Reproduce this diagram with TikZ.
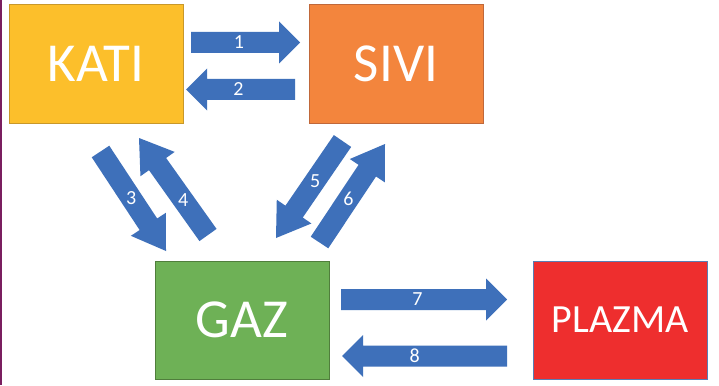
\documentclass[tikz,border=0pt]{standalone}
\usepackage{fontspec}
\setmainfont{Carlito}
\usetikzlibrary{calc}
\definecolor{arrowblue}{RGB}{62,112,186}
\definecolor{katifill}{RGB}{252,191,43}
\definecolor{katiline}{RGB}{200,152,42}
\definecolor{sivifill}{RGB}{243,133,61}
\definecolor{siviline}{RGB}{192,104,58}
\definecolor{gazfill}{RGB}{110,177,86}
\definecolor{gazline}{RGB}{80,126,60}
\definecolor{plazmafill}{RGB}{238,46,46}
\definecolor{plazmaline}{RGB}{90,125,180}
\definecolor{edgepurple}{RGB}{122,30,95}
\tikzset{
  statebox/.style={draw, line width=1pt, minimum width=174pt, minimum height=118pt,
    inner sep=0pt, text=white, font=\fontsize{55}{60}\selectfont},
  numlabel/.style={text=white, font=\fontsize{20}{22}\selectfont, inner sep=0pt},
}
% block arrow from tail #1 to tip #2 with head length #3
\newcommand{\blockarrow}[3]{%
  \fill[arrowblue]
    ($(#1)!10.5pt!90:(#2)$) --
    ($($(#2)!#3!(#1)$)!10.5pt!-90:(#1)$) --
    ($($(#2)!#3!(#1)$)!21pt!-90:(#1)$) --
    (#2) --
    ($($(#2)!#3!(#1)$)!21pt!90:(#1)$) --
    ($($(#2)!#3!(#1)$)!10.5pt!90:(#1)$) --
    ($(#1)!10.5pt!-90:(#2)$) -- cycle;}
\begin{document}
\begin{tikzpicture}[x=1pt,y=-1pt]
\useasboundingbox (0,0) rectangle (719,385);
\fill[white] (0,0) rectangle (719,385);
\fill[edgepurple] (0,0) rectangle (2,385);

\node[statebox, fill=katifill, draw=katiline] (kati) at (96,64) {KATI};
\node[statebox, fill=sivifill, draw=siviline] (sivi) at (396,64) {SIVI};
\node[statebox, fill=gazfill, draw=gazline] (gaz) at (242,320) {GAZ};
\node[statebox, fill=plazmafill, draw=plazmaline,
      font=\fontsize{40}{44}\selectfont] (plazma) at (620,320) {PLAZMA};

% arrow end points
\coordinate (a1t) at (191,42.5);   \coordinate (a1h) at (300,42.5);
\coordinate (a2t) at (295,89.5);   \coordinate (a2h) at (186,89.5);
\coordinate (a3t) at (100.5,151.5);\coordinate (a3h) at (166,251);
\coordinate (a4t) at (208,235);    \coordinate (a4h) at (139,138);
\coordinate (a5t) at (342.5,141);  \coordinate (a5h) at (276,238);
\coordinate (a6t) at (319.5,242.5);\coordinate (a6h) at (385,144);
\coordinate (a7t) at (341,299.5);  \coordinate (a7h) at (507,299.5);
\coordinate (a8t) at (507,356);    \coordinate (a8h) at (342,356);

\blockarrow{a1t}{a1h}{21pt}
\blockarrow{a2t}{a2h}{21pt}
\blockarrow{a3t}{a3h}{32pt}
\blockarrow{a4t}{a4h}{32pt}
\blockarrow{a5t}{a5h}{32pt}
\blockarrow{a6t}{a6h}{32pt}
\blockarrow{a7t}{a7h}{21pt}
\blockarrow{a8t}{a8h}{21pt}

\node[numlabel] (l1) at ($(a1t)!0.44!(a1h)$) {1};
\node[numlabel] (l2) at ($(a2t)!0.52!(a2h)$) {2};
\node[numlabel] (l3) at ($(a3t)!0.47!(a3h)$) {3};
\node[numlabel] (l4) at ($(a4t)!0.36!(a4h)$) {4};
\node[numlabel] (l5) at ($(a5t)!0.41!(a5h)$) {5};
\node[numlabel] (l6) at ($(a6t)!0.44!(a6h)$) {6};
\node[numlabel] (l7) at ($(a7t)!0.46!(a7h)$) {7};
\node[numlabel] (l8) at ($(a8t)!0.56!(a8h)$) {8};
\end{tikzpicture}
\end{document}
